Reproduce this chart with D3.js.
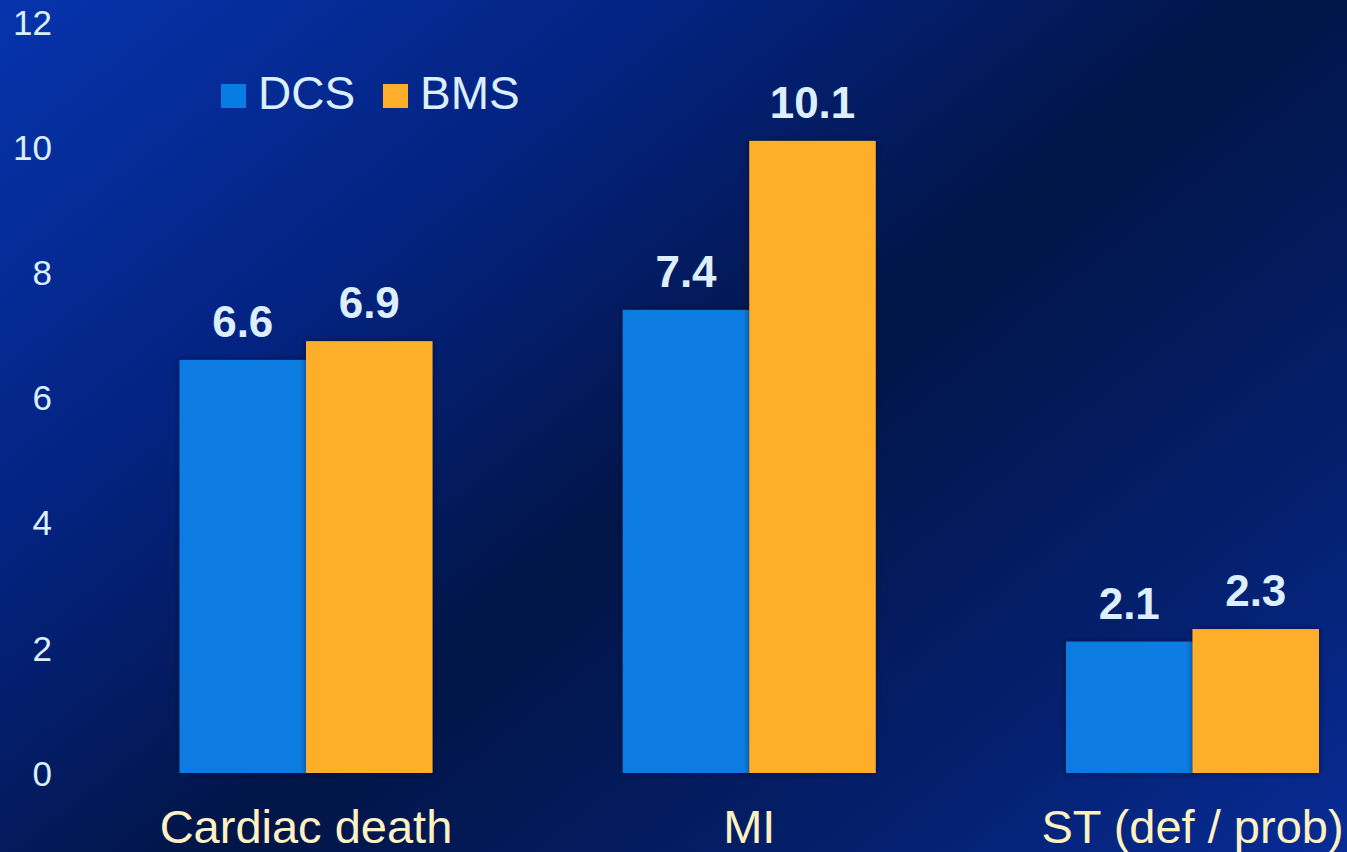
<!DOCTYPE html>
<html>
<head>
<meta charset="utf-8">
<script src="https://cdn.jsdelivr.net/npm/d3@7"></script>
<style>
  html, body { margin: 0; padding: 0; background: #041a5e; overflow: hidden; }
  svg { display: block; }
</style>
</head>
<body>
<svg id="chart" width="1347" height="852"></svg>
<script>
// ---- data ----
const categories = ["Cardiac death", "MI", "ST (def / prob)"];
const seriesNames = ["DCS", "BMS"];
const dcsValues = [6.6, 7.4, 2.1];
const bmsValues = [6.9, 10.1, 2.3];
const yTicks = [0, 2, 4, 6, 8, 10, 12];
const seriesColors = ["#077ce2", "#ffae2b"];

const W = 1347, H = 852;
const svg = d3.select("#chart");
const FONT = "'Liberation Sans', Arial, Helvetica, sans-serif";

// background gradient
const defs = svg.append("defs");
const bg = defs.append("linearGradient")
  .attr("id", "bg").attr("gradientUnits", "userSpaceOnUse")
  .attr("x1", 0).attr("y1", 0).attr("x2", 941).attr("y2", 1177);
bg.append("stop").attr("offset", 0).attr("stop-color", "#0634ad");
bg.append("stop").attr("offset", 0.28).attr("stop-color", "#042381");
bg.append("stop").attr("offset", 0.53).attr("stop-color", "#021547");
bg.append("stop").attr("offset", 0.8).attr("stop-color", "#04206e");
bg.append("stop").attr("offset", 1).attr("stop-color", "#082c97");
svg.append("rect").attr("width", W).attr("height", H).attr("fill", "url(#bg)");

const shadow = defs.append("filter").attr("id", "shadow")
  .attr("x", "-10%").attr("y", "-10%").attr("width", "120%").attr("height", "120%");
shadow.append("feDropShadow").attr("dx", 0).attr("dy", 0).attr("stdDeviation", 3)
  .attr("flood-color", "#000820").attr("flood-opacity", 0.55);

// scales
const y = d3.scaleLinear().domain([0, 12]).range([773, 22]);
const x0 = d3.scalePoint().domain(categories).range([306, 1192.5]);
const x1 = d3.scaleBand().domain(seriesNames).range([-126.5, 126.5]).padding(0);
const color = d3.scaleOrdinal().domain(seriesNames).range(seriesColors);

const rows = categories.map((c, i) => ({
  cat: c,
  vals: [{ s: "DCS", v: dcsValues[i] }, { s: "BMS", v: bmsValues[i] }]
}));

// y axis (labels only)
const yAxis = svg.append("g").attr("transform", "translate(52,0)")
  .call(d3.axisLeft(y).tickValues(yTicks).tickSize(0).tickPadding(0).tickFormat(d3.format("d")));
yAxis.select(".domain").remove();
yAxis.selectAll("text")
  .attr("fill", "#dcefff").style("font-family", FONT).style("font-size", "35px")
  .attr("dy", "0.35em");

// bars
const groups = svg.append("g").selectAll("g").data(rows).join("g")
  .attr("transform", d => `translate(${x0(d.cat)},0)`);

groups.selectAll("rect").data(d => d.vals).join("rect")
  .attr("x", d => x1(d.s))
  .attr("width", x1.bandwidth())
  .attr("y", d => y(d.v))
  .attr("height", d => y(0) - y(d.v))
  .attr("fill", d => color(d.s))
  .attr("filter", "url(#shadow)");

groups.selectAll("text.val").data(d => d.vals).join("text")
  .attr("class", "val")
  .attr("x", d => x1(d.s) + x1.bandwidth() / 2)
  .attr("y", d => y(d.v) - 23)
  .attr("text-anchor", "middle")
  .attr("fill", "#dcefff")
  .style("font-family", FONT).style("font-weight", "bold").style("font-size", "44px")
  .text(d => d3.format(".1f")(d.v));

// category labels
svg.append("g").selectAll("text").data(categories).join("text")
  .attr("x", d => x0(d))
  .attr("y", 843)
  .attr("text-anchor", "middle")
  .attr("fill", "#fff2c2")
  .style("font-family", FONT).style("font-size", "47px")
  .text(d => d);

// legend
const legendPos = [{ sx: 221, tx: 258 }, { sx: 383, tx: 420 }];
const legend = svg.append("g").selectAll("g").data(seriesNames).join("g");
legend.append("rect")
  .attr("x", (d, i) => legendPos[i].sx).attr("y", 84)
  .attr("width", 25).attr("height", 24)
  .attr("fill", d => color(d));
legend.append("text")
  .attr("x", (d, i) => legendPos[i].tx).attr("y", 109)
  .attr("fill", "#dcefff")
  .style("font-family", FONT).style("font-size", "46px")
  .text(d => d);
</script>
</body>
</html>
